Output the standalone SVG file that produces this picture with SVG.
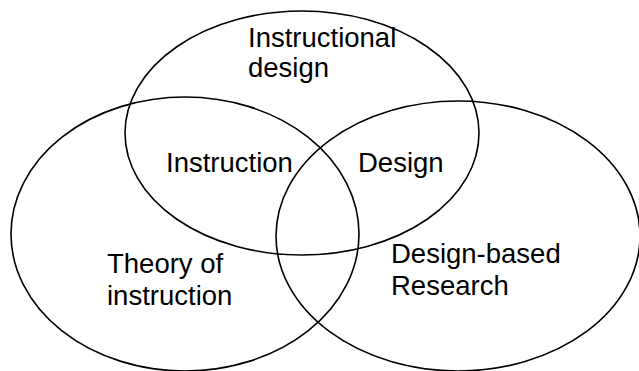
<svg xmlns="http://www.w3.org/2000/svg" width="639" height="371" viewBox="0 0 639 371">
<style>
.c{fill:none;stroke:#000;stroke-width:1.6}
.t{font-family:"Liberation Sans",Arial,sans-serif;font-size:27.5px;fill:#000}
</style>
<rect width="639" height="371" fill="#fff"/>
<g id="connectors"/>
<g id="instructional-design">
<ellipse class="c" cx="302" cy="133" rx="177" ry="122"/>
<text class="t" x="248" y="47">Instructional</text>
<text class="t" x="248" y="77">design</text>
</g>
<g id="theory-of-instruction">
<ellipse class="c" cx="185" cy="234" rx="174" ry="137"/>
<text class="t" x="107" y="273">Theory of</text>
<text class="t" x="107" y="305">instruction</text>
</g>
<g id="design-based-research">
<ellipse class="c" cx="458" cy="236" rx="182" ry="135"/>
<text class="t" x="391" y="263">Design-based</text>
<text class="t" x="391" y="295">Research</text>
</g>
<g id="overlap-instruction"><text class="t" x="166" y="172">Instruction</text></g>
<g id="overlap-design"><text class="t" x="358" y="172">Design</text></g>
</svg>
